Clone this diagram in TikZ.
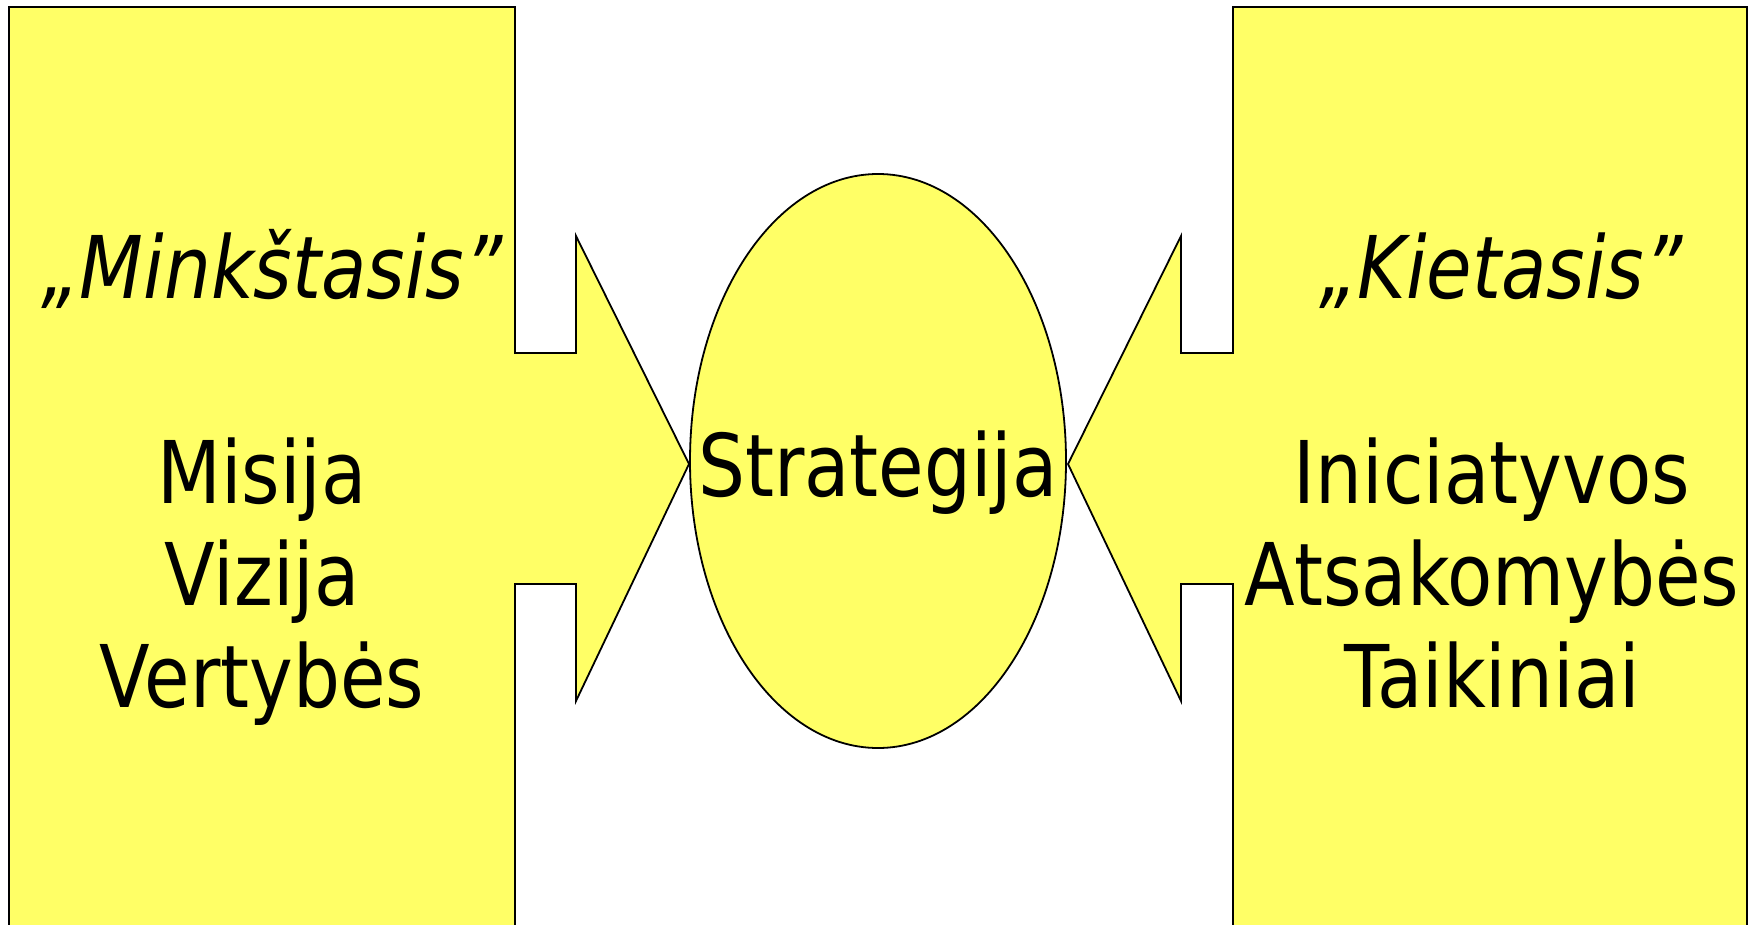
\documentclass[tikz,border=0pt]{standalone}
\usepackage{fontspec}
\setmainfont{DejaVu Sans}[FakeStretch=0.855]
\usetikzlibrary{shapes.geometric}
\definecolor{softyellow}{HTML}{FFFF66}
\begin{document}
\begin{tikzpicture}[x=0.5pt,y=-0.5pt,
  big/.style={font=\fontsize{43.25}{51}\selectfont,inner sep=0pt},
  title/.style={font=\fontsize{43.25}{51}\selectfont\itshape,inner sep=0pt},
  block/.style={draw=black,line width=0.9pt,fill=softyellow,line join=miter},
  core/.style={block,ellipse,minimum width=188pt,minimum height=287pt,
    inner sep=0pt}]
\useasboundingbox (0,0) rectangle (1754,925);
\clip (0,0) rectangle (1754,925);
% left block with arrow
\draw[block] (9,7) -- (515,7) -- (515,353) -- (576,353) -- (576,236)
  -- (689,464) -- (576,701) -- (576,584) -- (515,584) -- (515,940)
  -- (9,940) -- cycle;
% right block with arrow
\draw[block] (1747,7) -- (1233,7) -- (1233,353) -- (1181,353) -- (1181,236)
  -- (1068,464) -- (1181,701) -- (1181,584) -- (1233,584) -- (1233,940)
  -- (1747,940) -- cycle;
\node[core] (strat) at (878,461) {};
\node[big,anchor=base] (stratlbl) at (878,496) {Strategija};
% soft side
\node[title,anchor=base] (soft) at (272,298) {„Minkštasis”};
\node[big,anchor=base] (misija) at (262,503) {Misija};
\node[big,anchor=base] (vizija) at (262,605) {Vizija};
\node[big,anchor=base] (vertybes) at (262,707) {Vertybės};
% hard side
\node[title,anchor=base] (hard) at (1501,298) {„Kietasis”};
\node[big,anchor=base] (inic) at (1492,503) {Iniciatyvos};
\node[big,anchor=base] (atsak) at (1492,605) {Atsakomybės};
\node[big,anchor=base] (taik) at (1492,707) {Taikiniai};
\end{tikzpicture}
\end{document}
